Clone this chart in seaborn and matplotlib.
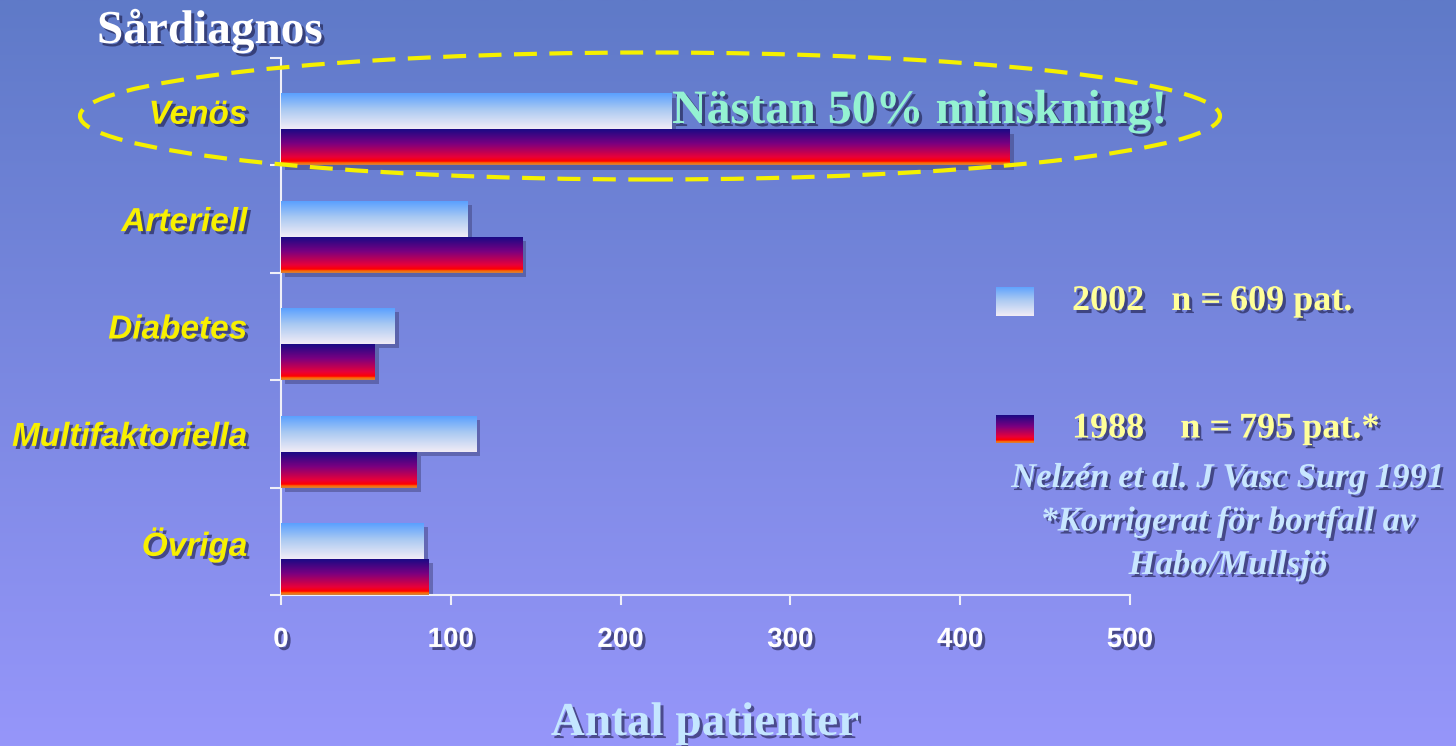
import numpy as np
import pandas as pd
import matplotlib
matplotlib.use("Agg")
import matplotlib.pyplot as plt
import matplotlib.patheffects as pe
from matplotlib.colors import LinearSegmentedColormap
from matplotlib.patches import Ellipse
import seaborn as sns

# Data
categories = ["Venös", "Arteriell", "Diabetes", "Multifaktoriella", "Övriga"]
years = ["2002", "1988"]
values_2002 = [230, 110, 67, 115, 84]
values_1988 = [429, 142, 55, 80, 87]
legend_labels = ["2002   n = 609 pat.", "1988    n = 795 pat.*"]
x_ticks = [0, 100, 200, 300, 400, 500]

df = pd.DataFrame({
    "Sårdiagnos": categories * 2,
    "År": [years[0]] * len(categories) + [years[1]] * len(categories),
    "Antal": values_2002 + values_1988,
})

sns.set_theme(style="white")
plt.rcParams["font.family"] = ["Liberation Sans", "DejaVu Sans"]

SERIF = ["Liberation Serif", "DejaVu Serif"]
shadow = [pe.SimplePatchShadow(offset=(2.2, -2.2), shadow_rgbFace="#1a1a45", alpha=0.6),
          pe.Normal()]

fig = plt.figure(figsize=(14.56, 7.46), dpi=100)

# Slide background: vertical blue gradient
bg = fig.add_axes([0, 0, 1, 1], zorder=-10)
t = np.linspace(0, 1, 256)[:, None, None]
c_top = np.array([95, 122, 200]) / 255
c_bot = np.array([150, 150, 250]) / 255
bg.imshow(c_top + (c_bot - c_top) * t, aspect="auto", extent=[0, 1, 0, 1], origin="upper")
bg.axis("off")

# Bar fills (vertical gradients per series)
cmap_new = LinearSegmentedColormap.from_list(
    "new", [(0, "#5aa0ff"), (0.45, "#a9c9f2"), (1, "#f2ecf6")])
cmap_old = LinearSegmentedColormap.from_list(
    "old", [(0, "#1a0a85"), (0.4, "#7a0080"), (0.78, "#e8003a"), (0.9, "#ff0000"),
            (0.94, "#ff6a00"), (1, "#d08040")])
series_cmaps = [cmap_new, cmap_old]
palette = {"2002": "#aaccff", "1988": "#800080"}

ax = fig.add_axes([281 / 1456, 1 - 595 / 746, 849 / 1456, 537 / 746])
ax.set_facecolor("none")

sns.barplot(data=df, y="Sårdiagnos", x="Antal", hue="År", hue_order=years,
            orient="h", width=0.67, palette=palette, saturation=1, errorbar=None,
            legend=False, ax=ax)

ramp = np.linspace(0, 1, 128)[:, None]
for container, cmap in zip(ax.containers, series_cmaps):
    for p in container:
        x0, y0, w, h = p.get_x(), p.get_y(), p.get_width(), p.get_height()
        im = ax.imshow(ramp, cmap=cmap, extent=(x0, x0 + w, y0 + h, y0),
                       origin="upper", aspect="auto", zorder=3,
                       interpolation="bilinear")
        im.set_clip_path(p)
        p.set_edgecolor("none")
        p.set_zorder(2)
        p.set_path_effects([pe.SimplePatchShadow(offset=(3, -3),
                                                 shadow_rgbFace="#3a3a70", alpha=0.45)])

n = len(categories)
ax.set_xlim(0, 500)
ax.set_ylim(n - 1 + 0.335, -0.665)
ax.set_xlabel("")
ax.set_ylabel("")

ax.set_xticks(x_ticks)
ax.set_xticklabels([str(v) for v in x_ticks])
ax.set_yticks([i - 0.165 for i in range(n)])
ax.set_yticklabels(categories)
ax.set_yticks([i - 0.665 for i in range(n + 1)], minor=True)

ax.tick_params(axis="x", which="major", direction="out", length=7, width=1.5,
               color="#f0f0f8", pad=16, bottom=True)
ax.tick_params(axis="y", which="major", length=0, pad=24, left=True)
ax.tick_params(axis="y", which="minor", direction="out", length=8, width=1.5,
               color="#f0f0f8", left=True)

for lab in ax.get_xticklabels():
    lab.set_fontsize(20)
    lab.set_fontweight("bold")
    lab.set_color("white")
    lab.set_path_effects(shadow)
for lab in ax.get_yticklabels():
    lab.set_fontsize(24)
    lab.set_fontweight("bold")
    lab.set_fontstyle("italic")
    lab.set_color("#f8f000")
    lab.set_path_effects(shadow)

for side in ("top", "right"):
    ax.spines[side].set_visible(False)
for side in ("left", "bottom"):
    ax.spines[side].set_color("#f0f0f8")
    ax.spines[side].set_linewidth(1.5)

# Headings and annotations
fig.text(97 / 1456, 1 - 31 / 746, "Sårdiagnos", ha="left", va="center",
         family=SERIF, weight="bold", size=34, color="white", path_effects=shadow)

fig.text(672 / 1456, 1 - 111 / 746, "Nästan 50% minskning!", ha="left", va="center",
         family=SERIF, weight="bold", size=34.5, color="#94f2d2", path_effects=shadow,
         zorder=6)

fig.add_artist(Ellipse((650 / 1456, 1 - 116 / 746), 1140 / 1456, 127 / 746,
                       transform=fig.transFigure, fill=False, edgecolor="#f5f000",
                       linewidth=3, linestyle=(0, (5.5, 3)), zorder=7))

# Legend swatches and labels
for k, (yt, yb) in enumerate([(287, 316), (415, 443)]):
    sw = fig.add_axes([996 / 1456, 1 - yb / 746, 38 / 1456, (yb - yt) / 746])
    sw.imshow(ramp, cmap=series_cmaps[k], aspect="auto", origin="upper")
    sw.axis("off")
    fig.text(1072 / 1456, 1 - (yt + yb) / 2 / 746, legend_labels[k], ha="left",
             va="center", family=SERIF, weight="bold", size=26, color="#ffff99",
             path_effects=shadow)

fig.text(1228 / 1456, 1 - 522 / 746,
         "Nelzén et al. J Vasc Surg 1991\n*Korrigerat för bortfall av\nHabo/Mullsjö",
         ha="center", va="center", multialignment="center", linespacing=1.42,
         family=SERIF, weight="bold", style="italic", size=25, color="#c8e6ff",
         path_effects=shadow)

fig.text(705 / 1456, 1 - 724 / 746, "Antal patienter", ha="center", va="center",
         family=SERIF, weight="bold", size=34, color="#c4e6ff", path_effects=shadow)

fig.savefig("out.png", dpi=100)
